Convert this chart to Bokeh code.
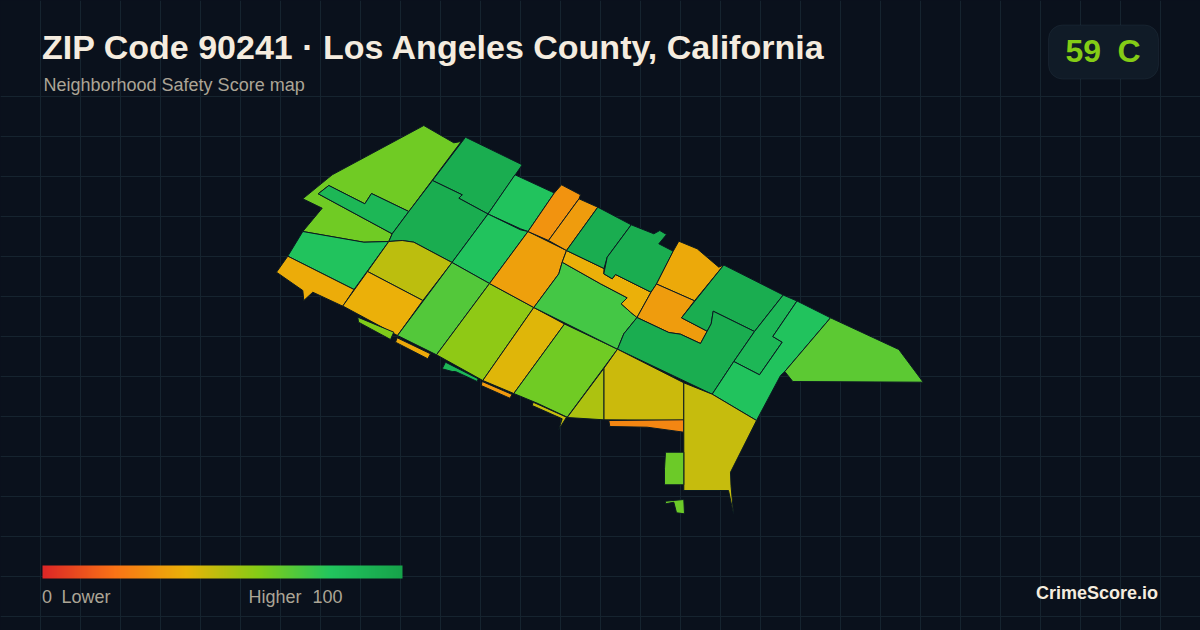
from bokeh.plotting import figure
from bokeh.embed import file_html
from bokeh.resources import INLINE
from bokeh.models import (ColumnDataSource, LinearColorMapper, FixedTicker, Range1d, BoxAnnotation)
from bokeh.core.properties import value
import numpy as np

BG = "#0a111c"
GRID = "#16242f"
OUTLINE = "#0b1a22"

title_text = "ZIP Code 90241 · Los Angeles County, California"
subtitle_text = "Neighborhood Safety Score map"
badge_score = "59"
badge_grade = "C"
brand_text = "CrimeScore.io"
legend_labels = ["0", "Lower", "Higher", "100"]

stop_scores = [0, 20, 40, 60, 80, 100]
stop_colors = ["#dc2626", "#f97316", "#eab308", "#84cc16", "#22c55e", "#16a34a"]

zone_scores = [64, 88, 81, 38, 94, 94, 81, 81, 49, 39, 70, 58, 42, 64, 34, 30, 33, 73, 39,
               94, 94, 37, 33, 94, 94, 88, 81, 68, 46, 52, 26, 47, 65, 65, 61, 37, 88, 32, 47]

zone_xs = [
    [302.3, 331.7, 423.3, 453.3, 460.7, 408.3, 371, 364.3, 328.3, 317.7, 391.7, 388.3, 363.3, 302.3, 321.7],
    [328.3, 364.3, 371, 408.3, 391.7, 317.7],
    [302.3, 363.3, 388.3, 353.5, 287.3],
    [287.3, 353.5, 342.3, 312.3, 303.3, 302.3, 276],
    [465, 521.7, 487.5, 458.3, 461.7, 432],
    [432, 461.7, 458.3, 487.5, 451.5, 413.3, 401.7, 388.3, 391.7, 408.3],
    [514.5, 553.8, 527.5, 520, 487.5],
    [487.5, 520, 527.5, 489, 451.5],
    [388.3, 401.7, 413.3, 451.5, 422.3, 367],
    [367, 422.3, 397, 342.3],
    [451.5, 489, 436, 397],
    [489, 533.3, 482.3, 436],
    [533.3, 564, 513.3, 482.3],
    [564, 617, 566.7, 536.7, 513.3],
    [527.5, 566, 561.7, 558.3, 533.3, 489],
    [561, 580, 578.5, 548, 527.5, 553.8],
    [578.5, 597.3, 566, 548],
    [561.7, 600, 626.7, 620.7, 630, 636.5, 623.3, 617, 533.3, 558.3],
    [566, 603.5, 603.3, 611.7, 615, 650.5, 636.5, 630, 620.7, 626.7, 600, 561.7],
    [597.3, 630.7, 606.7, 603.5, 566],
    [630.7, 653.3, 659.3, 666, 658.3, 672.7, 656, 650.5, 615, 611.7, 603.3, 606.7],
    [678.3, 696.7, 718.3, 723.3, 694, 656, 672.7],
    [656, 694, 681, 706.7, 700, 680, 668.3, 636.5, 650.5],
    [723.3, 782.7, 754, 712.7, 710.7, 706.7, 681],
    [636.5, 668.3, 680, 700, 706.7, 710.7, 712.7, 754, 733.3, 711.7, 617, 623.3],
    [782.7, 796.5, 772.3, 781.7, 759, 733.3, 754],
    [796.5, 830, 784.3, 780, 756, 711.7, 733.3, 759, 781.7, 772.3],
    [830, 898.3, 922.7, 792.3, 784.3],
    [603.3, 617, 683.3, 683.3, 603.3],
    [603.3, 603.3, 566.7],
    [608.3, 683.3, 683.3, 646.7, 609.3],
    [683.3, 711.7, 756, 730, 730.5, 733, 728, 683.3],
    [665, 683.3, 683.3, 664, 664],
    [665, 683.3, 684, 676, 673.3, 665],
    [357.3, 393.3, 390, 358],
    [396.7, 430, 427.3, 395],
    [445, 477.7, 476.7, 455, 451.7, 441.7],
    [481.7, 511.7, 509.3, 480.7],
    [532.7, 566, 558.3, 561.7, 531.7],
]
zone_ys = [
    [198.3, 174.3, 125, 142.3, 141, 211, 193, 203.3, 185, 193.3, 233.3, 241, 241.7, 231, 207.7],
    [185, 203.3, 193, 211, 233.3, 193.3],
    [231, 241.7, 241, 289, 255.7],
    [255.7, 289, 305.7, 291.7, 300, 290, 271.7],
    [136.7, 164.3, 213.5, 197.7, 194.3, 180],
    [180, 194.3, 197.7, 213.5, 262, 241.7, 240, 241, 233.3, 211],
    [174.3, 192.5, 231, 228.3, 213.5],
    [213.5, 229.3, 231, 283, 262],
    [241, 240, 241.7, 262, 300, 271],
    [271, 300, 335, 305.5],
    [262, 283, 354.3, 335],
    [283, 307, 380, 354.3],
    [307, 323.5, 393, 380],
    [323.5, 348.7, 416.7, 402.7, 393],
    [231, 250, 261.7, 273.3, 307, 283],
    [184.3, 194.3, 198.3, 240, 231, 192.5],
    [198.3, 206.7, 250, 240],
    [261.7, 283.3, 297.3, 303.3, 311.7, 317, 333.3, 348.7, 307, 273.3],
    [250, 268, 273.3, 278.3, 274, 291.7, 317, 311.7, 303.3, 297.3, 283.3, 261.7],
    [206.7, 224.3, 256.7, 268, 250],
    [224.3, 233.3, 230, 234, 243.3, 250.7, 283.5, 291.7, 274, 278.3, 273.3, 256.7],
    [240.7, 248.3, 266.7, 264.5, 300.3, 283.5, 250.7],
    [283.5, 300.3, 317.3, 330.7, 343, 333.7, 332, 317, 291.7],
    [264.5, 294.5, 331, 310.7, 323.3, 330.7, 317.3],
    [317, 332, 333.7, 343, 330.7, 323.3, 310.7, 331, 361, 393.7, 348.7, 333.3],
    [294.5, 300.5, 336, 341.7, 374.3, 361, 331],
    [300.5, 317.3, 371, 375, 420, 393.7, 361, 374.3, 341.7, 336],
    [317.3, 349, 381.7, 381, 371],
    [368, 348.7, 382.3, 420, 419.3],
    [368, 419.3, 417],
    [420, 419.3, 431.7, 426.7, 426],
    [382.3, 393.7, 420, 471.7, 485, 513, 490, 490],
    [451.7, 451.7, 484.3, 484.3, 468.3],
    [500.7, 499, 513.3, 512.3, 501.7, 503.3],
    [316.7, 331.7, 339, 321.7],
    [337.3, 353.3, 358.3, 341.7],
    [361.7, 378.3, 381, 371, 371, 368.3],
    [381, 394, 397.7, 385],
    [401.7, 416.7, 429, 418.3, 405],
]

grid_x = list(range(40, 1200, 40))
grid_y = list(range(96, 630, 40))

# colour scale shared by the map and the legend bar
scale_pos = np.linspace(0, 100, 512)
rgb = [[int(c[i:i + 2], 16) for i in (1, 3, 5)] for c in stop_colors]
palette = ["#%02x%02x%02x" % tuple(int(round(np.interp(s, stop_scores, [r[k] for r in rgb]))) for k in range(3))
           for s in scale_pos]
mapper = LinearColorMapper(palette=palette, low=0, high=100)

p = figure(width=1200, height=630, output_backend="svg", toolbar_location=None,
           x_range=Range1d(0, 1200), y_range=Range1d(630, 0), min_border=0,
           background_fill_color=BG, border_fill_color=BG, outline_line_color=None)
p.xaxis.visible = False
p.yaxis.visible = False
p.xgrid.ticker = FixedTicker(ticks=grid_x)
p.ygrid.ticker = FixedTicker(ticks=grid_y)
p.xgrid.bounds = (96, 630)
p.grid.grid_line_color = GRID
p.grid.grid_line_width = 1

src = ColumnDataSource(dict(xs=zone_xs, ys=zone_ys, score=zone_scores))
p.patches("xs", "ys", source=src, fill_color={"field": "score", "transform": mapper},
          line_color=OUTLINE, line_width=1)

# legend bar
p.image(image=[scale_pos[np.newaxis, :]], x=42, y=565, dw=360, dh=13, color_mapper=mapper)

badge = BoxAnnotation(left=1048, right=1158, top=24.5, bottom=78.5, fill_color="#101b27", fill_alpha=1,
                      line_color="#2c3a48", line_width=1, border_radius=14, level="underlay")
p.add_layout(badge)


def label(x, y, text, size, color, bold=False, align="left"):
    p.text(x=[x], y=[y], text=[text], text_font=value("Liberation Sans"), text_font_size=size,
           text_color=color, text_align=align, text_baseline="alphabetic",
           text_font_style="bold" if bold else "normal")


label(41.5, 46, title_text, "34px", "#f5ecdf", True)
label(43, 84, subtitle_text, "18px", "#aca596")
label(1065, 50, badge_score, "32px", "#84cc16", True)
label(1117, 50, badge_grade, "32px", "#84cc16", True)
label(41.5, 596, legend_labels[0], "18px", "#aca596")
label(61, 596, legend_labels[1], "18px", "#aca596")
label(248, 596, legend_labels[2], "18px", "#aca596")
label(312, 596, legend_labels[3], "18px", "#aca596")
label(1157.5, 592, brand_text, "18px", "#f5ecdf", True, "right")

html = file_html(p, INLINE, title="ZIP 90241")
html = html.replace("</head>", "<style>html,body{background:%s}</style></head>" % BG)
open("out.html", "w").write(html)
